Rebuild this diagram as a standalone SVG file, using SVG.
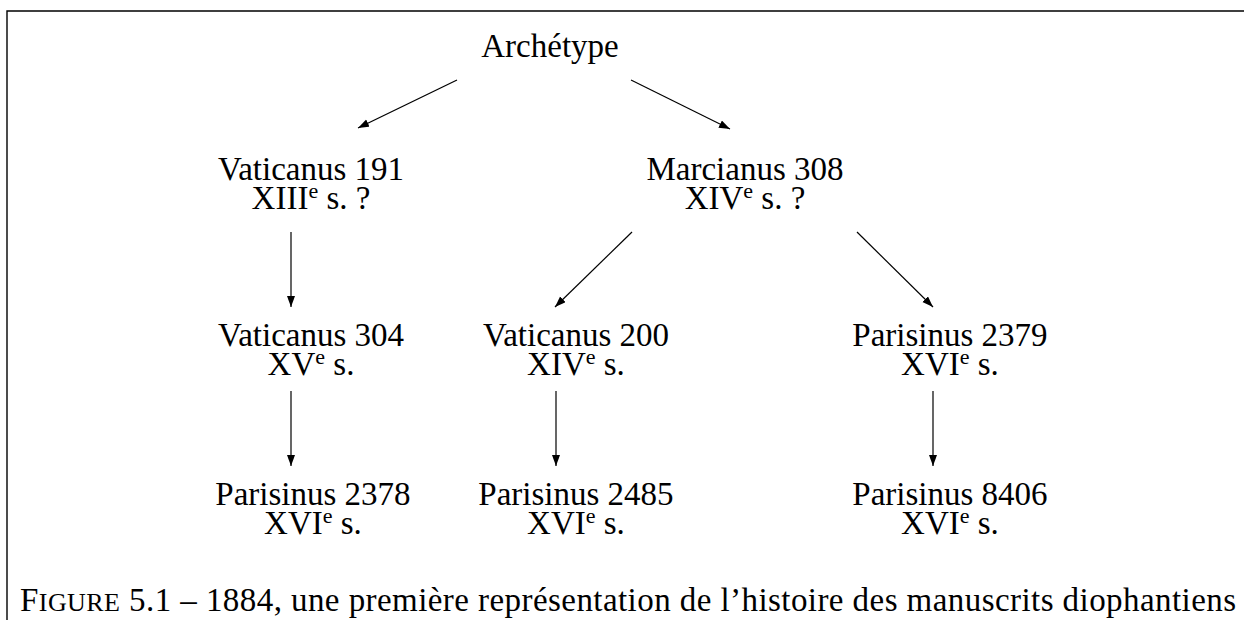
<svg xmlns="http://www.w3.org/2000/svg" width="1244" height="620" viewBox="0 0 1244 620">
<style>
  text { font-family: "Liberation Serif", "Times New Roman", serif; font-size: 33px; fill: #000; text-anchor: middle; }
  .sup { font-size: 22px; }
  .cap { text-anchor: start; }
  .sc { font-size: 26px; }
  .conn line { stroke: #000; stroke-width: 1.2; marker-end: url(#ah); }
  .frame { stroke: #000; stroke-width: 1.4; fill: none; }
</style>
<defs>
  <marker id="ah" markerUnits="userSpaceOnUse" markerWidth="12" markerHeight="9" refX="11" refY="4" orient="auto">
    <path d="M0,0 L11,4 L0,8 Z" fill="#000"/>
  </marker>
</defs>
<rect width="1244" height="620" fill="#fff"/>
<path class="frame" d="M7,620 L7,11 L1244,11"/>

<g id="archetype"><text x="550" y="57">Archétype</text></g>

<g id="vat191">
  <text x="311" y="180"><tspan x="311" y="180">Vaticanus 191</tspan><tspan x="311" y="209">XIII</tspan><tspan class="sup" dy="-11">e</tspan><tspan dy="11"> s. ?</tspan></text>
</g>
<g id="marc308">
  <text><tspan x="745" y="180">Marcianus 308</tspan><tspan x="745" y="209">XIV</tspan><tspan class="sup" dy="-11">e</tspan><tspan dy="11"> s. ?</tspan></text>
</g>

<g id="vat304">
  <text><tspan x="311" y="346">Vaticanus 304</tspan><tspan x="311" y="375">XV</tspan><tspan class="sup" dy="-11">e</tspan><tspan dy="11"> s.</tspan></text>
</g>
<g id="vat200">
  <text><tspan x="576" y="346">Vaticanus 200</tspan><tspan x="576" y="375">XIV</tspan><tspan class="sup" dy="-11">e</tspan><tspan dy="11"> s.</tspan></text>
</g>
<g id="par2379">
  <text><tspan x="950" y="346">Parisinus 2379</tspan><tspan x="950" y="375">XVI</tspan><tspan class="sup" dy="-11">e</tspan><tspan dy="11"> s.</tspan></text>
</g>

<g id="par2378">
  <text><tspan x="313" y="505">Parisinus 2378</tspan><tspan x="313" y="534">XVI</tspan><tspan class="sup" dy="-11">e</tspan><tspan dy="11"> s.</tspan></text>
</g>
<g id="par2485">
  <text><tspan x="576" y="505">Parisinus 2485</tspan><tspan x="576" y="534">XVI</tspan><tspan class="sup" dy="-11">e</tspan><tspan dy="11"> s.</tspan></text>
</g>
<g id="par8406">
  <text><tspan x="950" y="505">Parisinus 8406</tspan><tspan x="950" y="534">XVI</tspan><tspan class="sup" dy="-11">e</tspan><tspan dy="11"> s.</tspan></text>
</g>

<g id="connectors" class="conn">
  <line x1="457" y1="80" x2="358" y2="128"/>
  <line x1="631" y1="80" x2="730" y2="129"/>
  <line x1="291" y1="232" x2="291" y2="307"/>
  <line x1="632" y1="232" x2="555" y2="307"/>
  <line x1="857" y1="232" x2="933" y2="307"/>
  <line x1="291" y1="391" x2="291" y2="466"/>
  <line x1="556" y1="391" x2="556" y2="466"/>
  <line x1="933" y1="391" x2="933" y2="466"/>
</g>

<g id="caption">
  <text class="cap" x="20" y="611" textLength="1216" lengthAdjust="spacing">F<tspan class="sc">IGURE</tspan> 5.1 – 1884, une première représentation de l’histoire des manuscrits diophantiens</text>
</g>
</svg>
